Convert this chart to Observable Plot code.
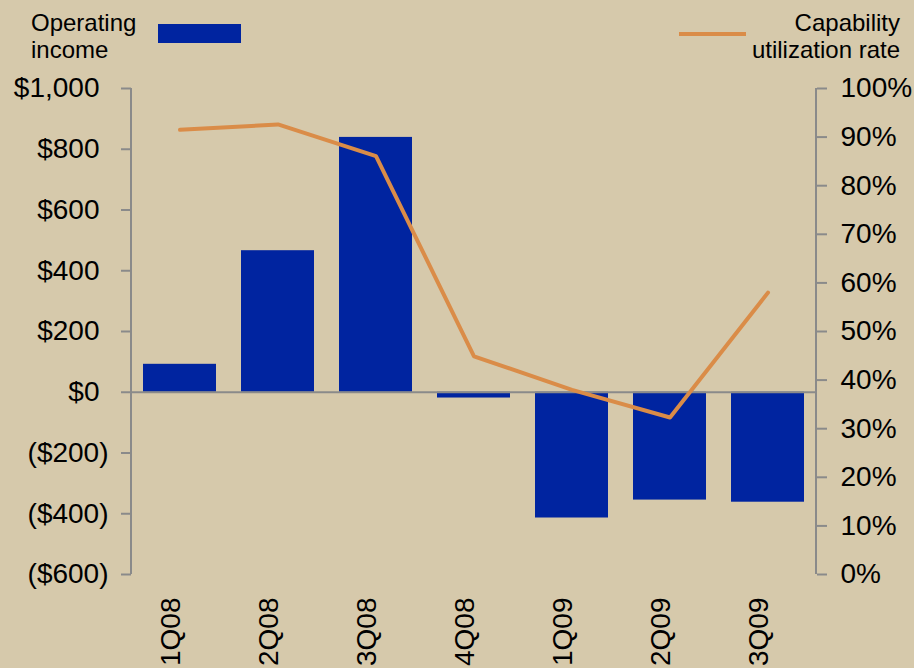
<!DOCTYPE html>
<html>
<head>
<meta charset="utf-8">
<script src="https://cdn.jsdelivr.net/npm/d3@7"></script>
<script src="https://cdn.jsdelivr.net/npm/@observablehq/plot@0.6"></script>
<style>
  html, body { margin: 0; padding: 0; background: #D6C9AB; }
  body { width: 914px; height: 668px; overflow: hidden; font-family: "Liberation Sans", Arial, sans-serif; color: #000; }
  #legend { position: relative; height: 70px; font-size: 24px; line-height: 27px; }
  #legend .txt { position: absolute; }
  #legend .swatch { position: absolute; }
</style>
</head>
<body>
<div id="legend">
  <div class="txt" style="left:31px; top:9px;">Operating<br>income</div>
  <div class="swatch" style="left:158px; top:24px; width:83px; height:19px; background:#0024A0;"></div>
  <div class="swatch" style="left:679px; top:32px; width:67px; height:4px; background:#DA8C48;"></div>
  <div class="txt" style="right:14px; top:9px; text-align:right;">Capability<br>utilization rate</div>
</div>
<div id="chart"></div>
<script>
// Quarterly operating income ($ millions) and capability utilization (%)
const quarters = ["1Q08", "2Q08", "3Q08", "4Q08", "1Q09", "2Q09", "3Q09"];
const operatingIncome = [92, 466, 839, -19, -414, -355, -362];
const utilizationRate = [91.5, 92.6, 86.1, 44.9, 38.0, 32.3, 58.0];

// Axis tick values
const incomeTicks = [-600, -400, -200, 0, 200, 400, 600, 800, 1000];
const rateTicks = [0, 10, 20, 30, 40, 50, 60, 70, 80, 90, 100];

const incomeDomain = [-600, 1000];
const blue = "#0024A0";
const orange = "#DA8C48";
const axisGray = "#8A8A8A";

// The right-hand percentage axis shares the income scale: 0% ↔ -600, 100% ↔ 1000
const rateToY = p => incomeDomain[0] + (p / 100) * (incomeDomain[1] - incomeDomain[0]);
const yToRate = v => Math.round((v - incomeDomain[0]) / (incomeDomain[1] - incomeDomain[0]) * 100);

const money = v => v < 0 ? `($${d3.format(",")(-v)})` : `$${d3.format(",")(v)}`;

const bars = quarters.map((q, i) => ({quarter: q, income: operatingIncome[i]}));
const rates = quarters.map((q, i) => ({quarter: q, y: rateToY(utilizationRate[i])}));

// Vertical axis lines at both edges of the frame
function axisLines(index, scales, channels, dims) {
  const g = d3.create("svg:g").attr("stroke", axisGray).attr("stroke-width", 2);
  const y0 = scales.y(incomeDomain[1]);
  const y1 = scales.y(incomeDomain[0]);
  [dims.marginLeft, dims.width - dims.marginRight].forEach(px => {
    g.append("line").attr("x1", px).attr("x2", px).attr("y1", y0).attr("y2", y1);
  });
  return g.node();
}

const chart = Plot.plot({
  width: 914,
  height: 598,
  marginLeft: 131,
  marginRight: 98,
  marginTop: 18,
  marginBottom: 94,
  style: {
    background: "transparent",
    fontFamily: "'Liberation Sans', Arial, sans-serif",
    fontSize: "28px",
    color: "#000"
  },
  x: {domain: quarters, paddingInner: 0.257, paddingOuter: 0.123, axis: null},
  y: {domain: incomeDomain},
  marks: [
    Plot.barY(bars, {x: "quarter", y: "income", fill: blue}),
    Plot.ruleY([0], {stroke: axisGray, strokeWidth: 2}),
    axisLines,
    // left axis: tick marks
    Plot.axisY({anchor: "left", ticks: incomeTicks, tickSize: 10, stroke: axisGray, strokeWidth: 2, fill: "none", label: null}),
    // left axis labels; parentheses of negative values hang past the digits
    Plot.axisY({anchor: "left", ticks: incomeTicks.filter(v => v >= 0), tickSize: 0, tickPadding: 32, tickFormat: money, label: null, fill: "#000"}),
    Plot.axisY({anchor: "left", ticks: incomeTicks.filter(v => v < 0), tickSize: 0, tickPadding: 23, tickFormat: money, label: null, fill: "#000"}),
    // right axis: percentages
    Plot.axisY({anchor: "right", ticks: rateTicks.map(rateToY), tickSize: 10, stroke: axisGray, strokeWidth: 2, fill: "none", label: null}),
    Plot.axisY({anchor: "right", ticks: rateTicks.map(rateToY), tickSize: 0, tickPadding: 24, tickFormat: v => `${yToRate(v)}%`, label: null, fill: "#000"}),
    Plot.lineY(rates, {x: "quarter", y: "y", stroke: orange, strokeWidth: 4, strokeLinecap: "round", strokeLinejoin: "round"}),
    // quarter labels, rotated
    Plot.text(quarters, {x: d => d, frameAnchor: "bottom", rotate: -90, textAnchor: "end", dy: 23, fill: "#000"})
  ]
});

document.getElementById("chart").appendChild(chart);
</script>
</body>
</html>
